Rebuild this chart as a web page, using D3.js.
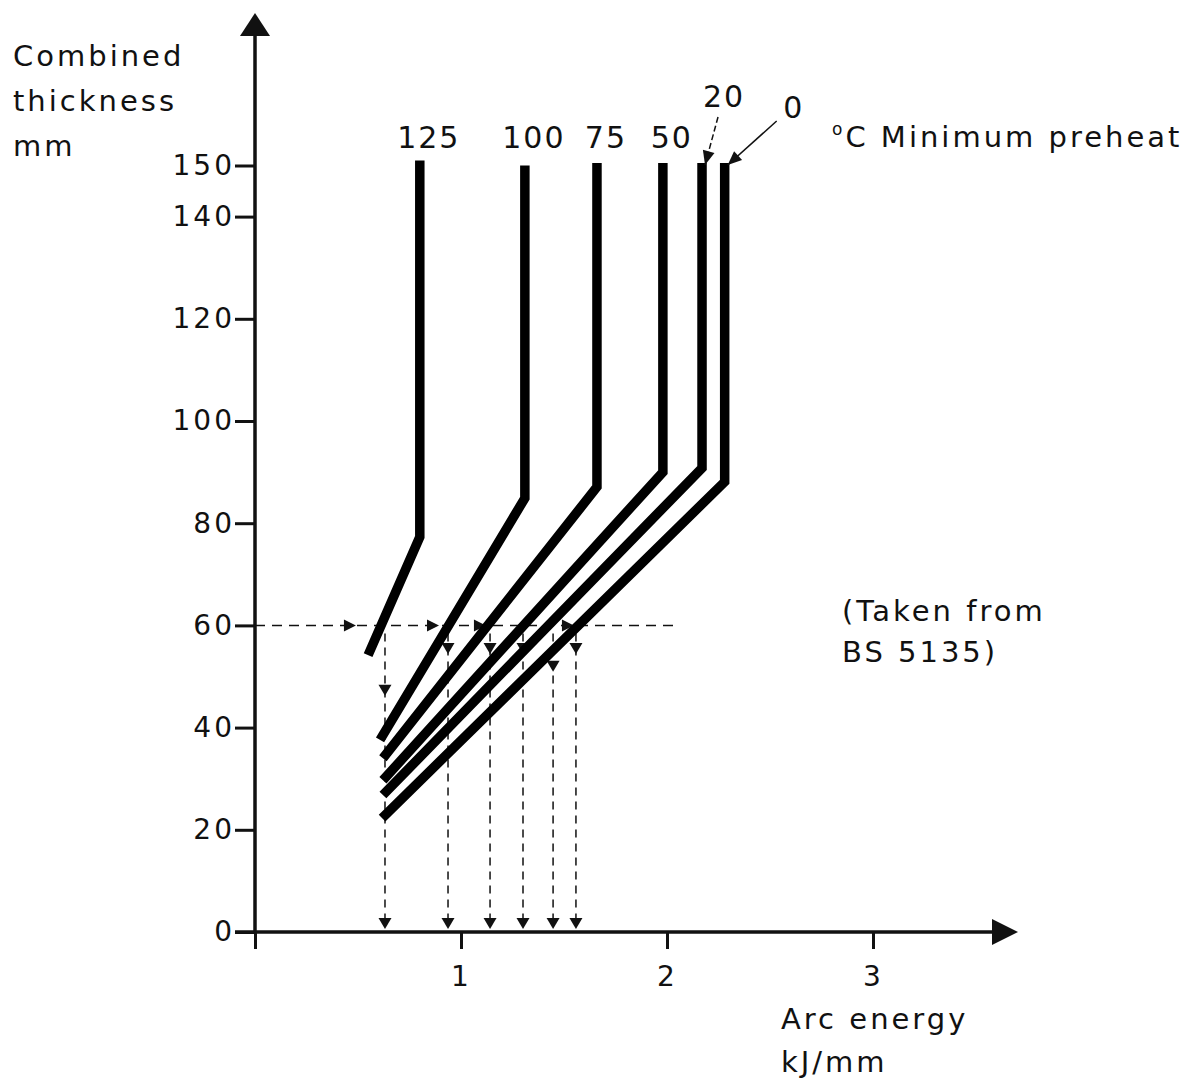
<!DOCTYPE html>
<html lang="en">
<head>
<meta charset="UTF-8">
<title>Combined thickness vs arc energy - minimum preheat</title>
<script src="https://d3js.org/d3.v7.min.js"></script>
<style>
    body { margin: 0; background: #fff; }
    svg text { font-family: "DejaVu Sans", sans-serif; fill: #111; letter-spacing: 3px; }
</style>
</head>
<body>
<svg width="1199" height="1080"></svg>
<script>
// preheat curves (°C), each: start point -> kink -> vertical to top
const preheatLabels = ["125", "100", "75", "50", "20", "0"];
const startEnergy = [0.549, 0.607, 0.621, 0.621, 0.621, 0.617];
const startThick = [54.2, 37.6, 34.0, 29.7, 26.8, 22.3];
const kinkEnergy = [0.80, 1.31, 1.66, 1.98, 2.17, 2.28];
const kinkThick = [77.3, 84.9, 87.1, 90.0, 90.8, 88.1];
const topThick = [151, 150, 150.5, 150.5, 150.5, 150.5];

// worked example: read across at 60 mm, drop down to the energy axis
const exampleThick = 60;
const exampleEnd = 2.06;
const acrossArrows = [0.461, 0.864, 1.092, 1.519];
const dropEnergy = [0.631, 0.937, 1.141, 1.301, 1.447, 1.558];
const dropArrowThick = [47.4, 55.6, 55.6, 55.6, 52.1, 55.6];

const yTicks = [0, 20, 40, 60, 80, 100, 120, 140, 150];
const xTicks = [1, 2, 3];

const svg = d3.select("svg");
const x = d3.scaleLinear().domain([0, 3]).range([255, 873]);
const y = d3.scaleLinear().domain([0, 150]).range([932, 165.5]);

function tri(cx, cy, dir, w, h) {
    // triangle with tip at (cx, cy)
    if (dir === "down") return `M${cx},${cy} L${cx - w / 2},${cy - h} L${cx + w / 2},${cy - h} Z`;
    if (dir === "right") return `M${cx},${cy} L${cx - h},${cy - w / 2} L${cx - h},${cy + w / 2} Z`;
    return `M${cx},${cy} L${cx - w / 2},${cy + h} L${cx + w / 2},${cy + h} Z`;
}

// axes
const yAxis = svg.append("g")
    .attr("transform", `translate(${x(0)},0)`)
    .call(d3.axisLeft(y).tickValues(yTicks).tickSize(20).tickPadding(0));
const xAxis = svg.append("g")
    .attr("transform", `translate(0,${y(0)})`)
    .call(d3.axisBottom(x).tickValues([0].concat(xTicks)).tickSize(17).tickPadding(12)
        .tickFormat(d => d === 0 ? "" : d));
[yAxis, xAxis].forEach(g => {
    g.select(".domain").remove();
    g.selectAll(".tick line").attr("stroke", "#111").attr("stroke-width", 3);
    g.selectAll(".tick text").style("font-size", "28px").attr("fill", "#111");
});
xAxis.selectAll(".tick text").attr("dy", "0.9em");

svg.append("line")
    .attr("x1", x(0)).attr("x2", x(0)).attr("y1", y(0) + 2).attr("y2", 30)
    .attr("stroke", "#111").attr("stroke-width", 3.5);
svg.append("path").attr("d", tri(x(0), 13, "up", 30, 23)).attr("fill", "#111");
svg.append("line")
    .attr("x1", x(0) - 20).attr("x2", 995).attr("y1", y(0)).attr("y2", y(0))
    .attr("stroke", "#111").attr("stroke-width", 3.5);
svg.append("path").attr("d", tri(1018, y(0), "right", 26, 26)).attr("fill", "#111");

// dashed example lines
svg.append("line")
    .attr("x1", x(0)).attr("x2", x(exampleEnd)).attr("y1", y(exampleThick)).attr("y2", y(exampleThick))
    .attr("stroke", "#111").attr("stroke-width", 1.5).attr("stroke-dasharray", "10,7");
svg.selectAll(".drop")
    .data(dropEnergy)
    .enter().append("line")
    .attr("class", "drop")
    .attr("x1", d => x(d)).attr("x2", d => x(d))
    .attr("y1", y(exampleThick) + 8).attr("y2", y(0) - 6)
    .attr("stroke", "#111").attr("stroke-width", 1.5).attr("stroke-dasharray", "8,6");
svg.selectAll(".drop-tip")
    .data(dropEnergy)
    .enter().append("path")
    .attr("d", d => tri(x(d), y(0) - 3, "down", 13, 11))
    .attr("fill", "#111");
svg.selectAll(".drop-mid")
    .data(dropEnergy)
    .enter().append("path")
    .attr("d", (d, i) => tri(x(d), y(dropArrowThick[i]) + 6, "down", 13, 11))
    .attr("fill", "#111");
svg.selectAll(".across")
    .data(acrossArrows)
    .enter().append("path")
    .attr("d", d => tri(x(d) + 6, y(exampleThick), "right", 12, 12))
    .attr("fill", "#111");

// preheat curves
const line = d3.line().x(d => x(d[0])).y(d => y(d[1]));
svg.selectAll(".curve")
    .data(preheatLabels)
    .enter().append("path")
    .attr("class", "curve")
    .attr("d", (d, i) => line([
        [startEnergy[i], startThick[i]],
        [kinkEnergy[i], kinkThick[i]],
        [kinkEnergy[i], topThick[i]]
    ]))
    .attr("fill", "none")
    .attr("stroke", "#000")
    .attr("stroke-width", 9.5)
    .attr("stroke-linejoin", "miter")
    .attr("stroke-linecap", "butt");

// curve labels
preheatLabels.forEach((lab, i) => {
    const cx = x(kinkEnergy[i]);
    let tx = cx + 9, ty = 148;
    if (lab === "20") { tx = cx + 22; ty = 107; }
    if (lab === "0") { tx = cx + 69; ty = 118; }
    svg.append("text")
        .attr("x", tx).attr("y", ty)
        .attr("text-anchor", "middle")
        .style("font-size", "30px")
        .style("letter-spacing", "2px")
        .text(lab);
    if (lab === "20" || lab === "0") {
        const sx = lab === "20" ? cx + 16 : cx + 52;
        const sy = lab === "20" ? 117 : 121;
        const ex = cx + 3, ey = y(topThick[i]) + 2;
        svg.append("line")
            .attr("x1", sx).attr("y1", sy).attr("x2", ex).attr("y2", ey)
            .attr("stroke", "#111").attr("stroke-width", 1.5)
            .attr("stroke-dasharray", lab === "20" ? "6,3" : null);
        const ang = Math.atan2(ey - sy, ex - sx);
        const L = 14, W = 6;
        const bx = ex - L * Math.cos(ang), by = ey - L * Math.sin(ang);
        svg.append("path")
            .attr("d", `M${ex},${ey} L${bx + W * Math.sin(ang)},${by - W * Math.cos(ang)} L${bx - W * Math.sin(ang)},${by + W * Math.cos(ang)} Z`)
            .attr("fill", "#111");
    }
});

svg.append("text")
    .attr("x", 832).attr("y", 147)
    .style("font-size", "29px")
    .html('<tspan dy="-12" style="font-size:17px">o</tspan><tspan dy="12">C Minimum preheat</tspan>');

// axis titles
["Combined", "thickness", "mm"].forEach((t, i) => {
    svg.append("text").attr("x", 13).attr("y", 66 + i * 45).style("font-size", "29px").text(t);
});
["Arc energy", "kJ/mm"].forEach((t, i) => {
    svg.append("text").attr("x", 781).attr("y", 1029 + i * 43).style("font-size", "29px").text(t);
});
["(Taken from", "BS 5135)"].forEach((t, i) => {
    svg.append("text").attr("x", 842).attr("y", 621 + i * 41).style("font-size", "29px").text(t);
});
</script>
</body>
</html>
